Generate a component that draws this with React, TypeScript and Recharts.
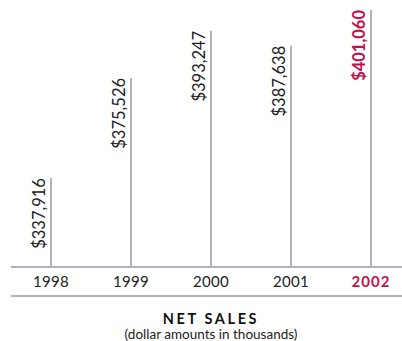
import React from 'react';
import { BarChart, Bar, XAxis, YAxis, Cell, LabelList } from 'recharts';

const years = ['1998', '1999', '2000', '2001', '2002'];
const netSales = [337916, 375526, 393247, 387638, 401060];
const highlightYear = '2002';

const LINE = '#b3b0c5';
const INK = '#222222';
const ACCENT = '#c0134c';
const FONT = 'Lato, "Open Sans", sans-serif';

const data = years.map((year, i) => ({ year, value: netSales[i] }));

const fmt = (v: number) => `$${v.toLocaleString('en-US')}`;

// year label plus the lower rule under each band
const YearTick = (props: any) => {
  const { x, y, payload } = props;
  const hot = payload.value === highlightYear;
  return (
    <g>
      <text
        x={x}
        y={y + 6}
        textAnchor="middle"
        dominantBaseline="central"
        fontFamily={FONT}
        fontSize={15}
        fontWeight={hot ? 700 : 400}
        letterSpacing={hot ? 1 : 0.3}
        fill={hot ? ACCENT : INK}
      >
        {payload.value}
      </text>
      <line x1={x - 40} x2={x + 40} y1={y + 21} y2={y + 21} stroke={LINE} strokeWidth={2} />
    </g>
  );
};

const ValueLabel = (props: any) => {
  const { x, y, width, value, index } = props;
  const hot = years[index] === highlightYear;
  const cx = x + width / 2 - 12;
  return (
    <text
      x={cx}
      y={y}
      transform={`rotate(-90 ${cx} ${y})`}
      textAnchor="end"
      dominantBaseline="central"
      fontFamily={FONT}
      fontSize={16.5}
      fontWeight={hot ? 700 : 400}
      fill={hot ? ACCENT : INK}
    >
      {fmt(value)}
    </text>
  );
};

export default function App() {
  return (
    <div style={{ position: 'absolute', left: 0, top: 0, width: 402, height: 341, overflow: 'hidden', background: '#fff' }}>
      <BarChart
        width={420}
        height={310}
        data={data}
        margin={{ top: 10, right: 9, bottom: 0, left: 11 }}
        barCategoryGap={0}
      >
        <YAxis hide domain={[304500, 401060]} allowDataOverflow />
        <XAxis
          dataKey="year"
          height={43}
          tickLine={false}
          axisLine={{ stroke: LINE, strokeWidth: 2 }}
          tick={<YearTick />}
          interval={0}
        />
        <Bar dataKey="value" barSize={2} isAnimationActive={false}>
          {data.map((d) => (
            <Cell key={d.year} fill={LINE} />
          ))}
          <LabelList dataKey="value" content={<ValueLabel />} />
        </Bar>
      </BarChart>
      <div
        style={{
          position: 'absolute',
          left: 11,
          width: 400,
          top: 310,
          textAlign: 'center',
          fontFamily: FONT,
          color: '#111',
        }}
      >
        <div style={{ fontSize: 14.5, fontWeight: 700, letterSpacing: 2.6, lineHeight: '17px' }}>NET SALES</div>
        <div style={{ fontSize: 13.5, lineHeight: '14px', color: '#222' }}>(dollar amounts in thousands)</div>
      </div>
    </div>
  );
}
